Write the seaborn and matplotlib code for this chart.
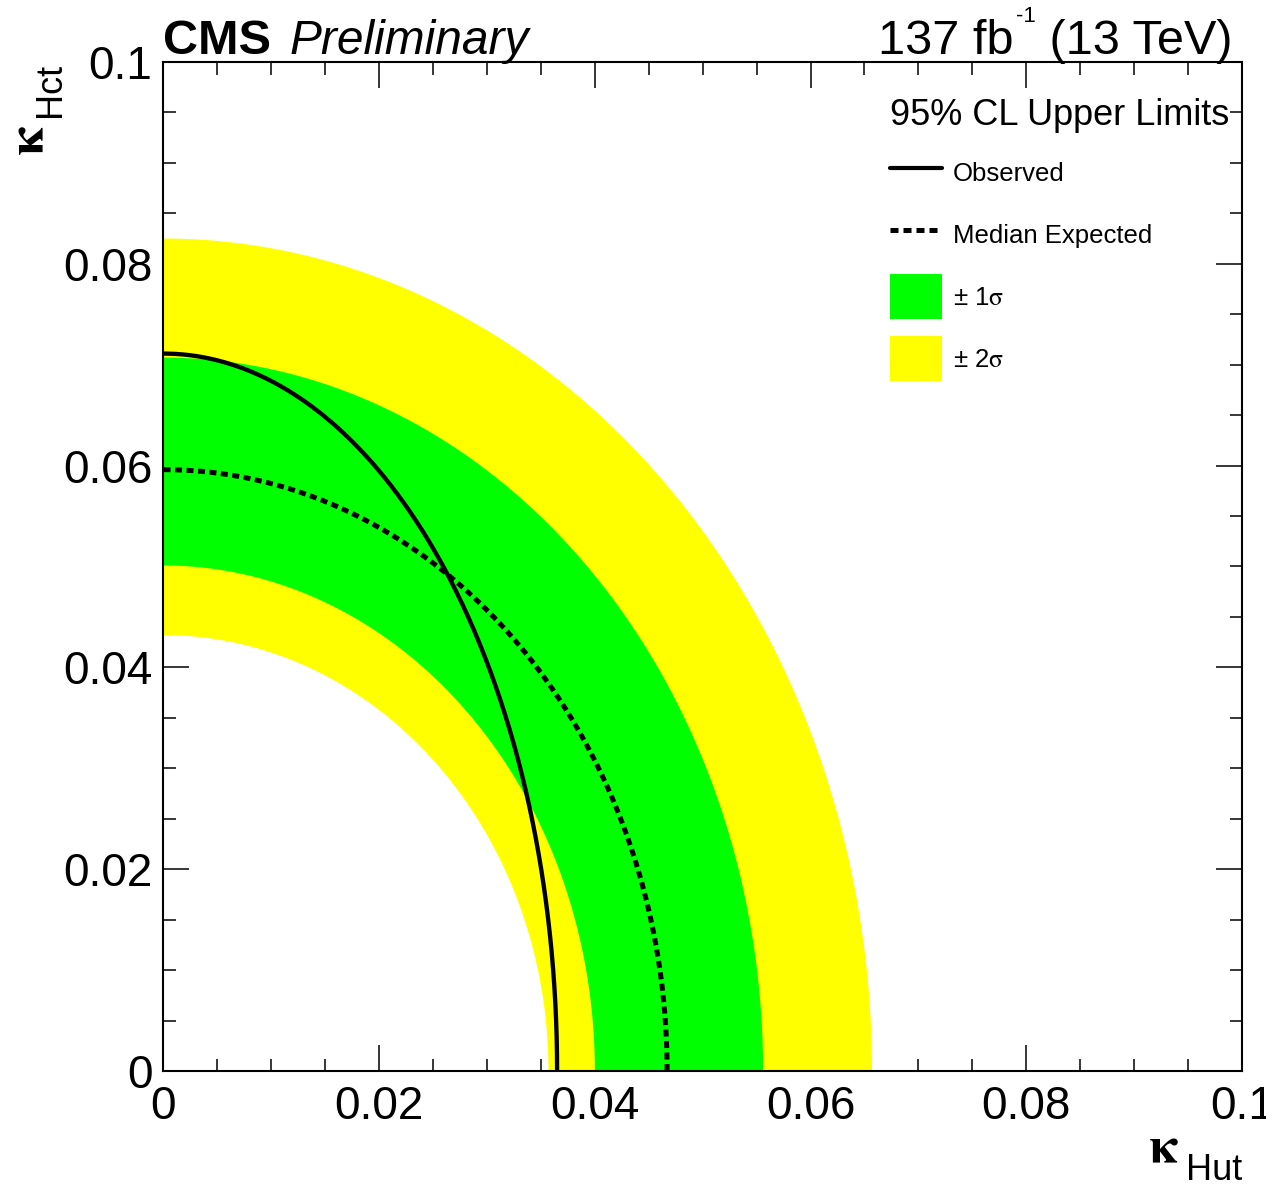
import numpy as np
import pandas as pd
import matplotlib
matplotlib.use("Agg")
import matplotlib.pyplot as plt
from matplotlib.lines import Line2D
from matplotlib.patches import Patch
from matplotlib.legend_handler import HandlerLine2D
from matplotlib.ticker import MultipleLocator, FuncFormatter
import seaborn as sns

# ---- data: 95% CL upper-limit contours, given by their intercepts on each axis ----
band_labels = ["-2sigma", "-1sigma", "+1sigma", "+2sigma"]
band_hut = [0.0357, 0.0400, 0.0556, 0.0657]   # kappa_Hut intercepts
band_hct = [0.0432, 0.0501, 0.0707, 0.0825]   # kappa_Hct intercepts

expected_hut = 0.0467
expected_hct = 0.0596
observed_hut = 0.0365
observed_hct = 0.0711

x_ticks = [0, 0.02, 0.04, 0.06, 0.08, 0.1]
y_ticks = [0, 0.02, 0.04, 0.06, 0.08, 0.1]

legend_title = "95% CL Upper Limits"
legend_labels = ["Observed", "Median Expected", "± 1$\\mathrm{\\sigma}$", "± 2$\\mathrm{\\sigma}$"]

GREEN = "#00ff00"
YELLOW = "#ffff00"

# ---- style ----
sns.set_style("ticks")
plt.rcParams["font.family"] = ["Liberation Sans", "DejaVu Sans"]
plt.rcParams["mathtext.fontset"] = "custom"
plt.rcParams["mathtext.rm"] = "STIXGeneral"
plt.rcParams["mathtext.sf"] = "Liberation Sans"
plt.rcParams["mathtext.it"] = "Liberation Sans:italic"
for k in ["text.color", "axes.labelcolor", "xtick.color", "ytick.color", "axes.edgecolor"]:
    plt.rcParams[k] = "black"
plt.rcParams["axes.linewidth"] = 1.5

fig = plt.figure(figsize=(12.66, 11.87), dpi=100)
fig.subplots_adjust(left=0.1291, right=0.9810, bottom=0.0977, top=0.9478)
ax = fig.add_subplot(111)

t = np.linspace(0.0, np.pi / 2, 400)


def quarter(a, b):
    return a * np.cos(t), b * np.sin(t)


def band(inner_a, inner_b, outer_a, outer_b, color):
    xo, yo = quarter(outer_a, outer_b)
    xi, yi = quarter(inner_a, inner_b)
    ax.fill(np.r_[xo, xi[::-1]], np.r_[yo, yi[::-1]], color=color, lw=0, zorder=1)


band(band_hut[0], band_hct[0], band_hut[3], band_hct[3], YELLOW)
band(band_hut[1], band_hct[1], band_hut[2], band_hct[2], GREEN)

xe, ye = quarter(expected_hut, expected_hct)
xo, yo = quarter(observed_hut, observed_hct)
df_exp = pd.DataFrame({"kHut": xe, "kHct": ye})
df_obs = pd.DataFrame({"kHut": xo, "kHct": yo})

sns.lineplot(data=df_exp, x="kHut", y="kHct", sort=False, estimator=None,
             color="black", lw=3.6, ax=ax, zorder=3)
ax.lines[-1].set_dashes((1.4, 0.9))
sns.lineplot(data=df_obs, x="kHut", y="kHct", sort=False, estimator=None,
             color="black", lw=3.1, ax=ax, zorder=4)

ax.set_xlim(0, 0.1)
ax.set_ylim(0, 0.1)
ax.set_xticks(x_ticks)
ax.set_yticks(y_ticks)
ax.xaxis.set_minor_locator(MultipleLocator(0.005))
ax.yaxis.set_minor_locator(MultipleLocator(0.005))
fmt = FuncFormatter(lambda v, p: "%g" % round(v, 4))
ax.xaxis.set_major_formatter(fmt)
ax.yaxis.set_major_formatter(fmt)
ax.tick_params(which="both", direction="in", top=True, right=True, color="black", width=1.1)
ax.tick_params(which="major", length=18.7, labelsize=33)
ax.tick_params(which="minor", length=9)
ax.tick_params(axis="x", which="major", pad=10)
ax.tick_params(axis="y", which="major", pad=8)
ax.set_xlabel("")
ax.set_ylabel("")
for s in ax.spines.values():
    s.set_visible(True)
    s.set_linewidth(1.5)
    s.set_zorder(5)

# axis titles: kappa (symbol font) with a sans-serif subscript
hut = ax.text(1.0, -0.1075, "Hut", transform=ax.transAxes, ha="right", va="baseline", fontsize=26)
ax.annotate("κ", xy=(0, -0.0905), xycoords=(hut, "axes fraction"), xytext=(-5, 0),
            textcoords="offset points", ha="right", va="baseline", fontsize=37,
            family="STIXGeneral", fontweight="bold")
hct = ax.text(-0.096, 0.999, "Hct", transform=ax.transAxes, rotation=90,
              rotation_mode="anchor", ha="right", va="baseline", fontsize=26)
ax.annotate("κ", xy=(-0.1127, 0), xycoords=("axes fraction", hct), xytext=(0, -5),
            textcoords="offset points", rotation=90, rotation_mode="anchor",
            ha="right", va="baseline", fontsize=37, family="STIXGeneral", fontweight="bold")

# header
ybase = 1 + 8 / 1009
ax.text(0.0, ybase, "CMS", transform=ax.transAxes, ha="left", va="baseline",
        fontsize=35, fontweight="bold")
ax.text(0.1173, ybase, "Preliminary", transform=ax.transAxes, ha="left", va="baseline",
        fontsize=34.5, fontstyle="italic")
t1 = ax.text(0.6625, ybase, "137 fb", transform=ax.transAxes, ha="left", va="baseline",
             fontsize=35)
t2 = ax.annotate("-1", xy=(1, ybase), xycoords=(t1, "axes fraction"), xytext=(2, 23),
                 textcoords="offset points", ha="left", va="baseline", fontsize=16)
ax.annotate(" (13 TeV)", xy=(1, ybase), xycoords=(t2, "axes fraction"), xytext=(0, 0),
            textcoords="offset points", ha="left", va="baseline", fontsize=35)


# legend
class LowerLine(HandlerLine2D):
    def create_artists(self, legend, orig_handle, xdescent, ydescent, width, height,
                       fontsize, trans):
        return super().create_artists(legend, orig_handle, xdescent,
                                      ydescent + 0.2 * fontsize, width, height,
                                      fontsize, trans)


handles = [
    Line2D([], [], color="black", lw=3.0),
    Line2D([], [], color="black", lw=3.6, dashes=(1.6, 1.0)),
    Patch(facecolor=GREEN, edgecolor="none"),
    Patch(facecolor=YELLOW, edgecolor="none"),
]
leg = ax.legend(handles, legend_labels, title=legend_title, loc="upper left",
                bbox_to_anchor=(0.6736, 0.964), frameon=False, fontsize=18.5,
                title_fontsize=26, alignment="left", borderpad=0, borderaxespad=0,
                handlelength=2.02, handleheight=2.32, labelspacing=0.66,
                handletextpad=0.43, handler_map={Line2D: LowerLine()})

fig.savefig("out.png", dpi=100)
